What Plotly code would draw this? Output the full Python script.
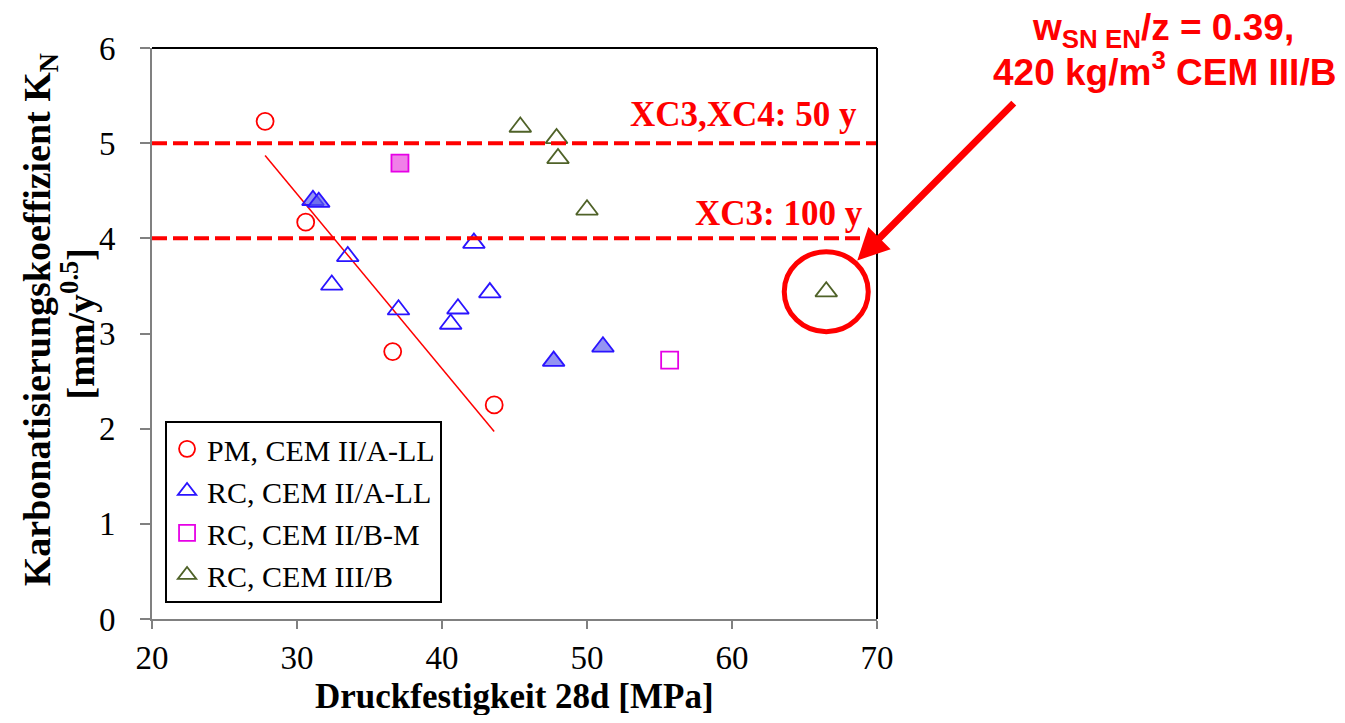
import plotly.graph_objects as go

# ---- data ----
pm_x = [27.8, 30.6, 36.6, 43.6]
pm_y = [5.23, 4.17, 2.81, 2.25]

rc_a_x = [42.2, 33.5, 32.4, 37.0, 41.1, 40.6, 43.3]
rc_a_y = [3.95, 3.81, 3.51, 3.25, 3.26, 3.10, 3.43]

rc_a_fill_x = [31.1, 31.5, 47.7, 51.1]
rc_a_fill_y = [4.40, 4.38, 2.71, 2.86]

rc_bm_x = [55.7]
rc_bm_y = [2.72]
rc_bm_fill_x = [37.1]
rc_bm_fill_y = [4.79]

rc_b_x = [45.4, 47.9, 48.0, 50.0, 66.5]
rc_b_y = [5.17, 5.05, 4.84, 4.30, 3.44]

trend_x = [27.8, 43.6]
trend_y = [4.87, 1.97]

limit_values = [5.0, 4.0]
limit_labels = ["XC3,XC4: 50 y", "XC3: 100 y"]

highlight_x = 66.5
highlight_y = 3.44

x_ticks = [20, 30, 40, 50, 60, 70]
y_ticks = [0, 1, 2, 3, 4, 5, 6]

RED = "#ff0000"
BLUE = "#2a14ff"
MAG = "#e600e6"
OLIVE = "#4f6228"
TF = "Liberation Serif"

fig = go.Figure()

fig.add_trace(go.Scatter(x=trend_x, y=trend_y, mode="lines",
                         line=dict(color=RED, width=1.5), showlegend=False, hoverinfo="skip"))

fig.add_trace(go.Scatter(x=pm_x, y=pm_y, mode="markers", name="PM, CEM II/A-LL",
                         marker=dict(symbol="circle-open", size=17, color=RED, line=dict(width=1.8, color=RED))))
fig.add_trace(go.Scatter(x=rc_a_x, y=rc_a_y, mode="markers", name="RC, CEM II/A-LL",
                         marker=dict(symbol="triangle-up-open", size=19, color=BLUE, line=dict(width=1.8, color=BLUE))))
fig.add_trace(go.Scatter(x=rc_bm_x, y=rc_bm_y, mode="markers", name="RC, CEM II/B-M",
                         marker=dict(symbol="square-open", size=17, color=MAG, line=dict(width=1.8, color=MAG))))
fig.add_trace(go.Scatter(x=rc_b_x, y=rc_b_y, mode="markers", name="RC, CEM III/B",
                         marker=dict(symbol="triangle-up-open", size=19, color=OLIVE, line=dict(width=1.8, color=OLIVE))))
fig.add_trace(go.Scatter(x=rc_a_fill_x, y=rc_a_fill_y, mode="markers", showlegend=False,
                         marker=dict(symbol="triangle-up", size=19, color="rgba(90,90,235,0.65)",
                                     line=dict(width=1.8, color=BLUE))))
fig.add_trace(go.Scatter(x=rc_bm_fill_x, y=rc_bm_fill_y, mode="markers", showlegend=False,
                         marker=dict(symbol="square", size=17, color="#f080e8",
                                     line=dict(width=1.8, color=MAG))))

shapes = []
annotations = []
label_shift = [7, 3]
label_xshift = [-18, -12]
for v, lab, ys, xs in zip(limit_values, limit_labels, label_shift, label_xshift):
    shapes.append(dict(type="line", xref="paper", x0=0, x1=1, yref="y", y0=v, y1=v,
                       line=dict(color=RED, width=4, dash="15px,6px")))
    annotations.append(dict(x=1, xref="paper", y=v, yref="y", text="<b>" + lab + "</b>",
                            xanchor="right", yanchor="bottom", yshift=ys, xshift=xs, showarrow=False,
                            font=dict(family=TF, size=35, color=RED)))

# highlight circle
shapes.append(dict(type="circle", xref="x", yref="y", xsizemode="pixel", ysizemode="pixel",
                   xanchor=highlight_x, yanchor=highlight_y, x0=-42, x1=42, y0=-40, y1=40,
                   line=dict(color=RED, width=5)))

annotations.append(dict(x=highlight_x, y=highlight_y, xref="x", yref="y",
                        ax=189, ay=-190, axref="pixel", ayref="pixel",
                        standoff=44, showarrow=True, arrowhead=2, arrowsize=0.9,
                        arrowwidth=7, arrowcolor=RED, text=""))

annotations.append(dict(x=1.395, y=1.031, xref="paper", yref="paper",
                        text="<b>w<sub>SN EN</sub>/z = 0.39,</b>",
                        showarrow=False, xanchor="center", yanchor="middle",
                        font=dict(family="Liberation Sans", size=37, color=RED)))
annotations.append(dict(x=1.396, y=0.963, xref="paper", yref="paper",
                        text="<b>420 kg/m<sup>3</sup> CEM III/B</b>",
                        showarrow=False, xanchor="center", yanchor="middle",
                        font=dict(family="Liberation Sans", size=37, color=RED)))

# axis titles
annotations.append(dict(x=0.5, y=-0.135, xref="paper", yref="paper",
                        text="<b>Druckfestigkeit 28d [MPa]</b>", showarrow=False,
                        xanchor="center", yanchor="middle",
                        font=dict(family=TF, size=35, color="black")))
annotations.append(dict(x=-0.1545, y=0.525, xref="paper", yref="paper", textangle=-90,
                        text="<b>Karbonatisierungskoeffizient K<sub>N</sub></b>", showarrow=False,
                        xanchor="center", yanchor="middle",
                        font=dict(family=TF, size=38, color="black")))
annotations.append(dict(x=-0.102, y=0.516, xref="paper", yref="paper", textangle=-90,
                        text="<b>[mm/y<sup>0.5</sup>]</b>", showarrow=False,
                        xanchor="center", yanchor="middle",
                        font=dict(family=TF, size=38, color="black")))

fig.update_layout(
    width=1329, height=707,
    margin=dict(l=144, r=460, t=40, b=96),
    paper_bgcolor="white", plot_bgcolor="white",
    shapes=shapes, annotations=annotations,
    legend=dict(x=0.018, y=0.347, xanchor="left", yanchor="top",
                bgcolor="white", bordercolor="black", borderwidth=2,
                font=dict(family=TF, size=30, color="black"),
                itemwidth=30),
    font=dict(family=TF, color="black"),
)

fig.update_xaxes(range=[20, 70], tickvals=x_ticks, showgrid=False, zeroline=False,
                 showline=True, linecolor="#808080", linewidth=2, mirror=False,
                 ticks="outside", ticklen=8, tickcolor="#808080", tickwidth=2,
                 ticklabelstandoff=0,
                 tickfont=dict(family=TF, size=33, color="black"))
fig.update_yaxes(range=[0, 6], tickvals=y_ticks, showgrid=False, zeroline=False,
                 showline=True, linecolor="#808080", linewidth=2, mirror=False,
                 ticks="outside", ticklen=10, tickcolor="#808080", tickwidth=2,
                 ticklabelstandoff=18,
                 tickfont=dict(family=TF, size=33, color="black"))

# top/right black border
fig.add_shape(type="line", xref="paper", yref="paper", x0=0, x1=1, y0=1, y1=1,
              line=dict(color="black", width=2))
fig.add_shape(type="line", xref="paper", yref="paper", x0=1, x1=1, y0=0, y1=1,
              line=dict(color="black", width=2))

fig.write_html("out.html")
